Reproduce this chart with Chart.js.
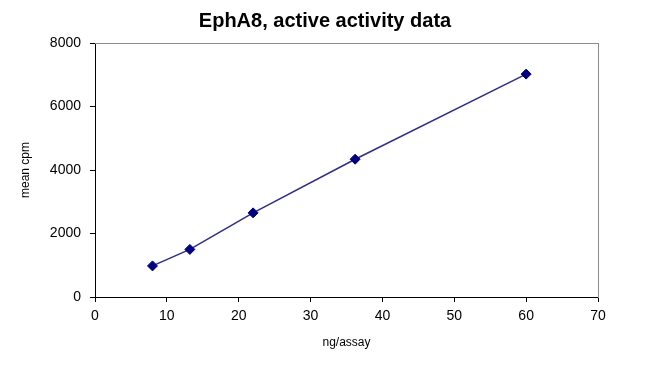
<!DOCTYPE html>
<html>
<head>
<meta charset="utf-8">
<script src="https://cdn.jsdelivr.net/npm/chart.js@4"></script>
<style>
  html, body { margin: 0; padding: 0; background: #fff; }
  #wrap { width: 650px; height: 365px; }
</style>
</head>
<body>
<div id="wrap"><canvas id="chart" width="650" height="365"></canvas></div>
<script>
// data
const ngPerAssay = [8, 13.2, 22, 36.2, 60];
const meanCpm = [980, 1500, 2650, 4340, 7020];
const xTicks = [0, 10, 20, 30, 40, 50, 60, 70];
const yTicks = [0, 2000, 4000, 6000, 8000];

const FONT = 'Arial, "Liberation Sans", sans-serif';
const FRAME = '#8c8c8c';

// empty axes on top and right: give the grey frame and keep the title centred on the page
const frameAxis = (pos, size) => ({
    position: pos,
    display: true,
    min: 0,
    max: 1,
    afterFit: s => {
        if (pos === 'top') s.height = size; else s.width = size;
    },
    grid: { display: false },
    ticks: { display: false },
    border: { color: FRAME, width: 1 }
});

new Chart(document.getElementById('chart'), {
    type: 'scatter',
    data: {
        datasets: [{
            data: ngPerAssay.map((x, i) => ({ x: x, y: meanCpm[i] })),
            showLine: true,
            borderColor: '#2f2f88',
            borderWidth: 1.6,
            pointStyle: 'rectRot',
            pointRadius: 5,
            pointBackgroundColor: '#000080',
            pointBorderColor: '#000080',
            pointBorderWidth: 1
        }]
    },
    options: {
        responsive: false,
        animation: false,
        layout: { padding: 0 },
        plugins: {
            legend: { display: false },
            tooltip: { enabled: false },
            title: {
                display: true,
                text: 'EphA8, active activity data',
                color: '#000',
                font: { family: FONT, size: 20, weight: 'bold' },
                padding: { top: 9, bottom: 10 }
            }
        },
        scales: {
            x: {
                type: 'linear',
                min: 0,
                max: 70,
                afterBuildTicks: s => { s.ticks = xTicks.map(v => ({ value: v })); },
                afterFit: s => { s.height = 68; },
                grid: { drawOnChartArea: false, tickLength: 5, color: '#000' },
                border: { color: '#000', width: 1 },
                ticks: {
                    color: '#000',
                    font: { family: FONT, size: 14 },
                    padding: 6,
                    callback: v => String(v)
                },
                title: {
                    display: true,
                    text: 'ng/assay',
                    color: '#000',
                    font: { family: FONT, size: 12 },
                    padding: { top: 4, bottom: 15 }
                }
            },
            y: {
                type: 'linear',
                min: 0,
                max: 8000,
                afterBuildTicks: s => { s.ticks = yTicks.map(v => ({ value: v })); },
                afterFit: s => { s.width = 95; },
                grid: { drawOnChartArea: false, tickLength: 5, color: '#000' },
                border: { color: '#000', width: 1 },
                ticks: {
                    color: '#000',
                    font: { family: FONT, size: 14 },
                    padding: 9,
                    callback: v => String(v)
                },
                title: {
                    display: true,
                    text: 'mean cpm',
                    color: '#000',
                    font: { family: FONT, size: 12 },
                    padding: { top: 18, bottom: 4 }
                }
            },
            x2: frameAxis('top', 0),
            y2: frameAxis('right', 52)
        }
    }
});
</script>
</body>
</html>
